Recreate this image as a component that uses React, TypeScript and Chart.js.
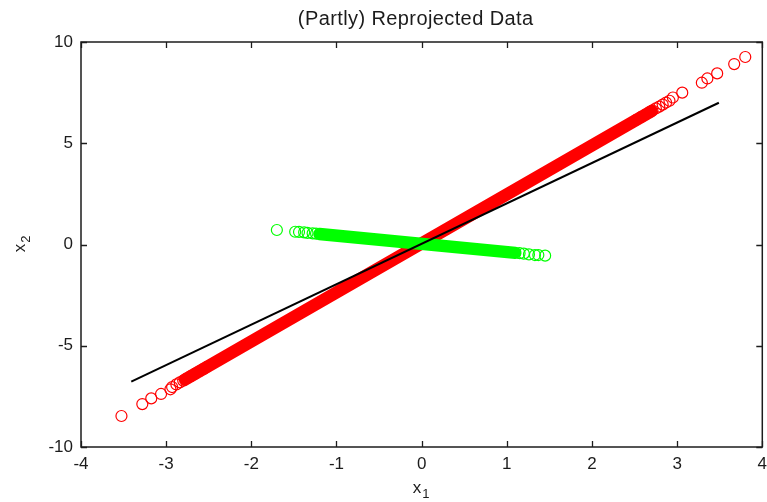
import React, { useEffect, useRef } from "react";
import { Chart, registerables } from "chart.js";

Chart.register(...registerables);

// ---- text ----
const titleText = "(Partly) Reprojected Data";
const xLabelBase = "x";
const xLabelSub = "1";
const yLabelBase = "x";
const yLabelSub = "2";

// ---- axes ----
const xTicks = [-4, -3, -2, -1, 0, 1, 2, 3, 4];
const yTicks = [-10, -5, 0, 5, 10];

// ---- red: data projected on the first component (individual circles) ----
const redX = [
  -3.525, -3.28, -3.175, -3.06, -2.95, -2.93, -2.88, -2.84, -2.8, -2.76, -2.71, -2.66, -2.61, -2.56, -2.52,
  2.52, 2.58, 2.63, 2.68, 2.71, 2.75, 2.79, 2.83, 2.87, 2.91, 2.95, 3.06, 3.29, 3.355, 3.47, 3.67, 3.8,
];
const redY = [
  -8.47, -7.88, -7.6, -7.38, -7.15, -7.04, -6.91, -6.81, -6.72, -6.62, -6.5, -6.38, -6.26, -6.14, -6.04,
  6.16, 6.3, 6.42, 6.55, 6.62, 6.72, 6.81, 6.91, 7.01, 7.1, 7.26, 7.5, 7.99, 8.2, 8.45, 8.91, 9.26,
];
// dense, fully overlapping run of red circles
const redCoreX = [-2.78, 2.7];
const redCoreY = [-6.67, 6.59];

// ---- green: data projected on the second component ----
const greenX = [-1.7, -1.485, -1.44, -1.38, -1.34, -1.28, -1.24, 1.15, 1.2, 1.26, 1.33, 1.37, 1.45];
const greenY = [0.716, 0.63, 0.62, 0.6, 0.57, 0.55, 0.54, -0.43, -0.45, -0.49, -0.52, -0.52, -0.55];
const greenCoreX = [-1.2, 1.1];
const greenCoreY = [0.52, -0.41];

// ---- black line ----
const blackX = [-3.41, 3.49];
const blackY = [-6.77, 7.0];

const toXY = (xs: number[], ys: number[]) => xs.map((x, i) => ({ x, y: ys[i] }));

const FONT = "'Liberation Sans', Arial, Helvetica, sans-serif";
const TEXT_COLOR = "#1c1c1c";

function drawSubLabel(ctx: CanvasRenderingContext2D, base: string, sub: string, cx: number, cy: number) {
  ctx.font = `17px ${FONT}`;
  const wb = ctx.measureText(base).width;
  ctx.font = `13px ${FONT}`;
  const ws = ctx.measureText(sub).width;
  const total = wb + ws + 1;
  const left = cx - total / 2;
  ctx.textAlign = "left";
  ctx.textBaseline = "alphabetic";
  ctx.font = `17px ${FONT}`;
  ctx.fillText(base, left, cy + 4);
  ctx.font = `13px ${FONT}`;
  ctx.fillText(sub, left + wb + 1, cy + 9);
}

const framePlugin = {
  id: "matlabFrame",
  afterDraw(chart: any) {
    const { ctx, chartArea: a, scales } = chart;
    const xs = scales.x;
    const ys = scales.y;
    ctx.save();
    ctx.strokeStyle = TEXT_COLOR;
    ctx.lineWidth = 1.5;
    ctx.strokeRect(a.left, a.top, a.right - a.left, a.bottom - a.top);
    ctx.lineWidth = 1.3;
    ctx.beginPath();
    const tl = 6;
    xTicks.forEach((v) => {
      const px = Math.round(xs.getPixelForValue(v)) + 0.5;
      ctx.moveTo(px, a.bottom);
      ctx.lineTo(px, a.bottom - tl);
      ctx.moveTo(px, a.top);
      ctx.lineTo(px, a.top + tl);
    });
    yTicks.forEach((v) => {
      const py = Math.round(ys.getPixelForValue(v)) + 0.5;
      ctx.moveTo(a.left, py);
      ctx.lineTo(a.left + tl, py);
      ctx.moveTo(a.right, py);
      ctx.lineTo(a.right - tl, py);
    });
    ctx.stroke();

    ctx.fillStyle = TEXT_COLOR;
    ctx.font = `20px ${FONT}`;
    (ctx as any).letterSpacing = "0.4px";
    ctx.textAlign = "center";
    ctx.textBaseline = "middle";
    ctx.fillText(titleText, (a.left + a.right) / 2 - 6, 19);
    (ctx as any).letterSpacing = "0px";

    drawSubLabel(ctx, xLabelBase, xLabelSub, 421, 489);

    ctx.translate(21, 244);
    ctx.rotate(-Math.PI / 2);
    drawSubLabel(ctx, yLabelBase, yLabelSub, 0, 0);
    ctx.restore();
  },
};

export default function App() {
  const ref = useRef<HTMLCanvasElement | null>(null);

  useEffect(() => {
    if (!ref.current) return;
    const circle = {
      pointStyle: "circle" as const,
      pointRadius: 5.5,
      borderWidth: 1.2,
      backgroundColor: "rgba(0,0,0,0)",
      showLine: false,
    };
    const chart = new Chart(ref.current, {
      type: "scatter",
      data: {
        datasets: [
          {
            label: "line",
            data: toXY(blackX, blackY),
            showLine: true,
            borderColor: "#000000",
            borderWidth: 2,
            pointRadius: 0,
            order: 0,
          },
          {
            label: "green",
            data: toXY(greenX, greenY),
            borderColor: "#00ff00",
            ...circle,
            order: 1,
          },
          {
            label: "green core",
            data: toXY(greenCoreX, greenCoreY),
            showLine: true,
            borderColor: "#00ff00",
            borderWidth: 12.4,
            borderCapStyle: "round",
            pointRadius: 0,
            order: 1,
          },
          {
            label: "red",
            data: toXY(redX, redY),
            borderColor: "#ff0000",
            ...circle,
            order: 2,
          },
          {
            label: "red core",
            data: toXY(redCoreX, redCoreY),
            showLine: true,
            borderColor: "#ff0000",
            borderWidth: 12.4,
            borderCapStyle: "round",
            pointRadius: 0,
            order: 2,
          },
        ],
      },
      options: {
        animation: false,
        responsive: false,
        devicePixelRatio: 1,
        events: [],
        layout: { padding: { top: 42, right: 1, left: 0, bottom: 0 } },
        plugins: {
          legend: { display: false },
          tooltip: { enabled: false },
          title: { display: false },
        },
        scales: {
          x: {
            type: "linear",
            min: -4,
            max: 4,
            afterBuildTicks: (s: any) => {
              s.ticks = xTicks.map((v) => ({ value: v }));
            },
            afterFit: (s: any) => {
              s.height = 55;
              s.paddingLeft = 0;
              s.paddingRight = 0;
            },
            grid: { display: false, drawTicks: false },
            border: { display: false },
            ticks: {
              padding: 7,
              maxRotation: 0,
              autoSkip: false,
              color: TEXT_COLOR,
              font: { family: FONT, size: 17 },
            },
          },
          y: {
            type: "linear",
            min: -10,
            max: 10,
            afterBuildTicks: (s: any) => {
              s.ticks = yTicks.map((v) => ({ value: v }));
            },
            afterFit: (s: any) => {
              s.width = 81;
              s.paddingTop = 0;
              s.paddingBottom = 0;
            },
            grid: { display: false, drawTicks: false },
            border: { display: false },
            ticks: {
              padding: 8,
              autoSkip: false,
              color: TEXT_COLOR,
              font: { family: FONT, size: 17 },
            },
          },
        },
      },
      plugins: [framePlugin],
    } as any);
    return () => chart.destroy();
  }, []);

  return (
    <div style={{ position: "fixed", left: 0, top: 0, width: 767, height: 502, overflow: "hidden", background: "#fff" }}>
      <canvas ref={ref} width={769} height={502} style={{ display: "block" }} />
    </div>
  );
}
